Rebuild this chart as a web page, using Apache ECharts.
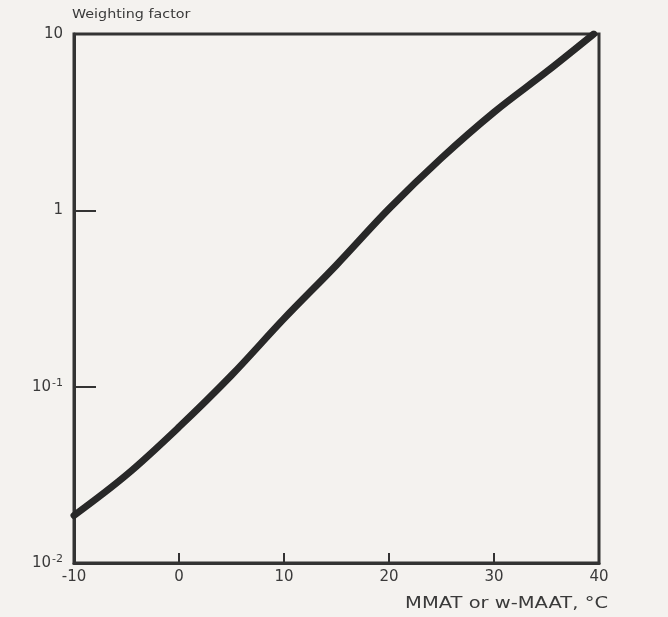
<!DOCTYPE html>
<html>
<head>
<meta charset="utf-8">
<script src="https://cdn.jsdelivr.net/npm/echarts@6/dist/echarts.min.js"></script>
<style>
  html, body { margin: 0; padding: 0; background: #f4f2ef; }
  #chart { width: 668px; height: 617px; }
</style>
</head>
<body>
<div id="chart"></div>
<script>
// Temperature (°C) and weighting factor along the curve
const temps   = [-10, -5, 0, 5, 10, 15, 20, 25, 30, 35, 39.5];
const factors = [0.0186, 0.0316, 0.059, 0.116, 0.243, 0.49, 1.02, 1.98, 3.6, 6.1, 10];

// Axis ticks
const xTicks = [-10, 0, 10, 20, 30, 40];
const yTickLabels = { '-2': '{b|10}{s|-2}', '-1': '{b|10}{s|-1}', '0': '{b|1}', '1': '{b|10}' };

const ink = '#282828';
const font = '"DejaVu Sans", Verdana, sans-serif';
const textColor = '#3a3a3a';

const chart = echarts.init(document.getElementById('chart'), null, { renderer: 'canvas' });

chart.setOption({
  backgroundColor: '#f4f2ef',
  animation: false,
  grid: {
    left: 74, right: 69, top: 34, bottom: 54,
    show: true, borderColor: '#333', borderWidth: 3, backgroundColor: 'transparent'
  },
  xAxis: {
    type: 'value',
    min: xTicks[0], max: xTicks[xTicks.length - 1], interval: 10,
    axisLine: { show: true, onZero: false, lineStyle: { color: '#333', width: 3 } },
    axisTick: { show: true, inside: true, length: 10, lineStyle: { color: '#333', width: 2 } },
    axisLabel: { color: textColor, fontSize: 15, fontFamily: font, margin: 7 },
    splitLine: { show: false }
  },
  yAxis: {
    type: 'log', logBase: 10, min: 0.01, max: 10,
    axisLine: { show: true, onZero: false, lineStyle: { color: '#333', width: 3 } },
    axisTick: { show: true, inside: true, length: 22, lineStyle: { color: '#333', width: 2 } },
    axisLabel: {
      margin: 11,
      formatter: function (v) {
        const e = Math.round(Math.log10(v));
        return yTickLabels[String(e)] || '';
      },
      rich: {
        b: { color: textColor, fontSize: 15, fontFamily: font },
        s: { color: textColor, fontSize: 11, fontFamily: font, padding: [0, 0, 8, 1] }
      }
    },
    splitLine: { show: false },
    minorTick: { show: false }
  },
  series: [{
    type: 'line',
    data: temps.map((t, i) => [t, factors[i]]),
    smooth: 0.35,
    showSymbol: false,
    clip: true,
    lineStyle: { color: ink, width: 7, cap: 'round' }
  }],
  graphic: [
    {
      type: 'text', x: 72, y: 8, scaleX: 1.1,
      style: { text: 'Weighting factor', fill: textColor, font: '13px ' + font, align: 'left' }
    },
    {
      type: 'text', x: 608, y: 597, scaleX: 1.3,
      style: { text: 'MMAT or w-MAAT, \u00B0C', fill: textColor, font: '15px ' + font, align: 'right' }
    }
  ]
});
</script>
</body>
</html>
